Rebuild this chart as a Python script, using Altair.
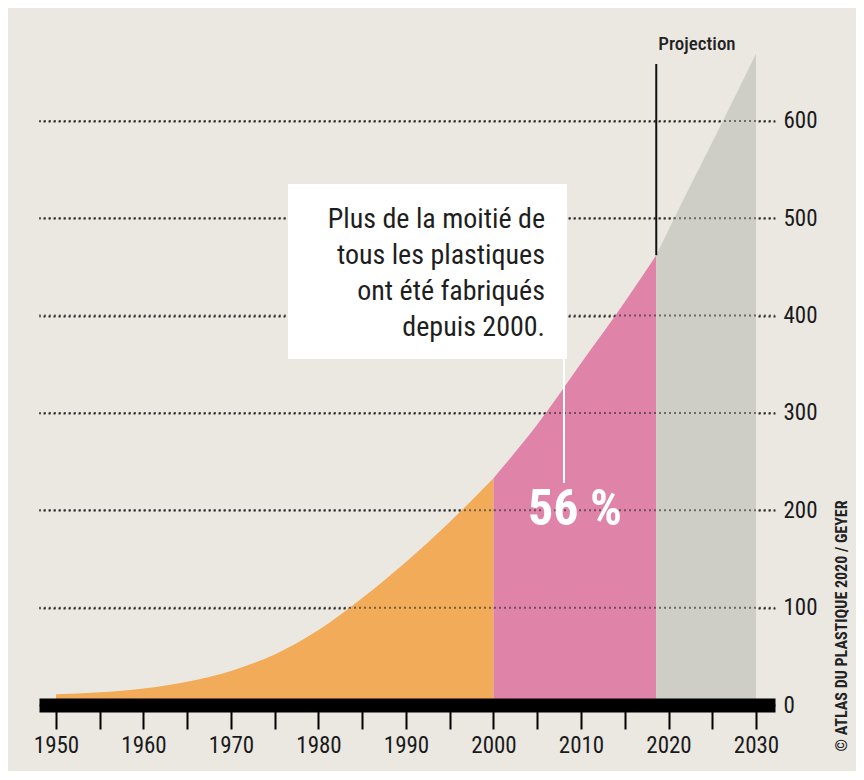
import altair as alt
import pandas as pd

# ---- data ----
hist_years = [1950, 1955, 1960, 1965, 1970, 1975, 1980, 1985, 1990, 1995, 2000]
hist_values = [11, 13, 17, 24, 35, 52, 77, 110, 147, 188, 233]
recent_years = [2000, 2005, 2010, 2015, 2018.6]
recent_values = [233, 288, 351, 414, 462]
proj_years = [2018.6, 2020, 2025, 2030]
proj_values = [462, 488, 578, 669]

x_ticks = [1950, 1955, 1960, 1965, 1970, 1975, 1980, 1985, 1990, 1995,
           2000, 2005, 2010, 2015, 2020, 2025, 2030]
y_ticks = [0, 100, 200, 300, 400, 500, 600]

callout_lines = ["Plus de la moitié de", "tous les plastiques",
                 "ont été fabriqués", "depuis 2000."]
share_label = "56 %"
projection_label = "Projection"
source_label = "© ATLAS DU PLASTIQUE 2020 / GEYER"

segments = ["avant 2000", "depuis 2000", "projection"]
seg_colors = ["#F2AB58", "#DF84A8", "#CECDC6"]

FONT = "Liberation Sans Narrow, Roboto Condensed, DejaVu Sans Condensed, Arial Narrow, sans-serif"
BG = "#EBE8E2"
GRID = "#2a2a2a"

seg_frames = [
    pd.DataFrame({"annee": hist_years, "valeur": hist_values, "segment": segments[0]}),
    pd.DataFrame({"annee": recent_years, "valeur": recent_values, "segment": segments[1]}),
    pd.DataFrame({"annee": proj_years, "valeur": proj_values, "segment": segments[2]}),
]

W, H = 736, 662
xscale = alt.Scale(domain=[1948.06, 2032.17], nice=False, zero=False)
yscale = alt.Scale(domain=[0, 680], nice=False)

x_axis = alt.Axis(values=x_ticks, format="d",
                  labelExpr="datum.value % 10 == 0 ? datum.label : ''",
                  domainColor="#000000", domainWidth=14,
                  tickColor="#000000", tickWidth=2, tickSize=24,
                  labelPadding=5, labelFontSize=23, labelFont=FONT,
                  labelColor="#1a1a1a", grid=False, title=None, zindex=1)
y_axis = alt.Axis(orient="right", values=y_ticks, grid=True,
                  gridColor=GRID, gridDash=[2, 3], gridWidth=2,
                  domain=False, ticks=False, labelPadding=8,
                  labelFontSize=23, labelFont=FONT,
                  labelColor="#1a1a1a", title=None)

areas = []
for seg_df, col in zip(seg_frames, seg_colors):
    a = alt.Chart(seg_df).mark_area(interpolate="monotone", color=col).encode(
        x=alt.X("annee:Q", scale=xscale, axis=x_axis),
        y=alt.Y("valeur:Q", scale=yscale, axis=y_axis),
    )
    areas.append(a)

# dotted gridlines drawn again, fainter, over the filled areas
grid_df = pd.DataFrame({"valeur": y_ticks[1:]})
grid_over = alt.Chart(grid_df).mark_rule(
    color=GRID, strokeDash=[2, 3], strokeWidth=2, opacity=0.6).encode(
    x=alt.value(0), x2=alt.value(W),
    y=alt.Y("valeur:Q", scale=yscale, axis=y_axis))

proj_df = pd.DataFrame({"annee": [proj_years[0]], "valeur": [proj_values[0]],
                        "label": [projection_label]})
proj_rule = alt.Chart(proj_df).mark_rule(color="#111111", strokeWidth=2).encode(
    x=alt.X("annee:Q", scale=xscale, axis=x_axis),
    y=alt.Y("valeur:Q", scale=yscale, axis=y_axis),
    y2=alt.value(21),
)
proj_text = alt.Chart(proj_df).mark_text(
    font=FONT, fontSize=19, fontWeight=500, color="#222222",
    align="center", baseline="middle").encode(
    x=alt.value(658), y=alt.value(1), text="label:N")

box_df = pd.DataFrame({"label": ["\n".join(callout_lines)]})
box = alt.Chart(box_df).mark_rect(color="#FFFFFF").encode(
    x=alt.value(249), x2=alt.value(528), y=alt.value(141), y2=alt.value(316))
box_text = alt.Chart(box_df).mark_text(
    font=FONT, fontSize=28, color="#1e1e1e", align="right", baseline="middle",
    lineBreak="\n", lineHeight=36).encode(
    x=alt.value(506), y=alt.value(177), text="label:N")
pointer = alt.Chart(box_df).mark_rule(color="#FFFFFF", strokeWidth=2).encode(
    x=alt.value(525), y=alt.value(316), y2=alt.value(440))

share_df = pd.DataFrame({"label": [share_label]})
share_text = alt.Chart(share_df).mark_text(
    font=FONT, fontSize=50, fontWeight="bold", color="#FFFFFF",
    align="center", baseline="middle").encode(
    x=alt.value(536), y=alt.value(467), text="label:N")

src_df = pd.DataFrame({"label": [source_label]})
src_text = alt.Chart(src_df).mark_text(
    font=FONT, fontSize=16, fontWeight="bold", color="#222222",
    align="center", baseline="middle", angle=270).encode(
    x=alt.value(803), y=alt.value(583), text="label:N")

chart = alt.layer(
    *areas, grid_over, proj_rule, box, pointer, box_text, share_text,
    proj_text, src_text
).properties(
    width=W, height=H,
    autosize=alt.AutoSizeParams(type="none"),
    padding={"left": 31, "top": 35, "right": 81, "bottom": 66},
    background=BG,
).configure_view(stroke=None)

chart.save("out.html", embed_options={"renderer": "svg", "actions": False})
